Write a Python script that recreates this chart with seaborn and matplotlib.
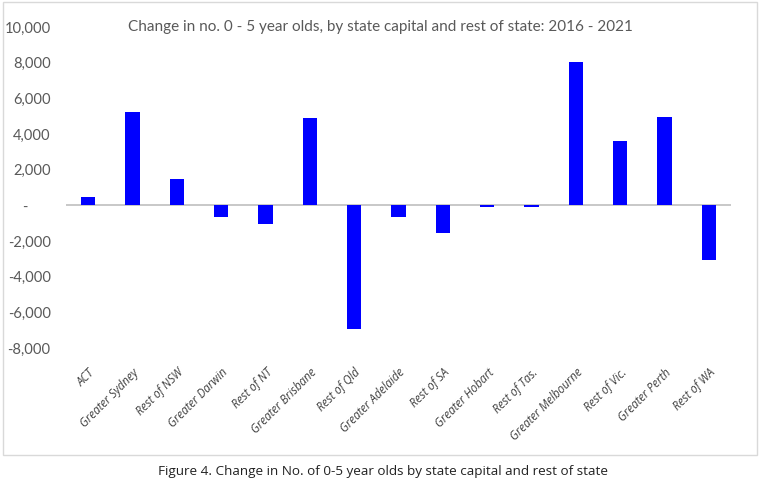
import numpy as np
import pandas as pd
import matplotlib
matplotlib.use("Agg")
import matplotlib.pyplot as plt
import matplotlib.patches as mpatches
import matplotlib.ticker as mticker
import seaborn as sns

# change in no. of 0-5 year olds, 2016 - 2021
regions = ["ACT", "Greater Sydney", "Rest of NSW", "Greater Darwin", "Rest of NT",
           "Greater Brisbane", "Rest of Qld", "Greater Adelaide", "Rest of SA",
           "Greater Hobart", "Rest of Tas.", "Greater Melbourne", "Rest of Vic.",
           "Greater Perth", "Rest of WA"]
change = [450, 5220, 1480, -630, -1030, 4890, -6920, -670, -1570,
          -110, -110, 8030, 3630, 4930, -3060]
yticks = [-8000, -6000, -4000, -2000, 0, 2000, 4000, 6000, 8000, 10000]

df = pd.DataFrame({"region": regions, "change": change})

sns.set_style("white")
plt.rcParams['font.family'] = ['Lato', 'DejaVu Sans']

fig = plt.figure(figsize=(7.68, 4.91), dpi=100)
W, H = 768, 491
ax = fig.add_axes([66/W, 1-348/H, (731-66)/W, (348-27)/H])

sns.barplot(data=df, x="region", y="change", color="#0000ff", saturation=1,
            width=0.33, ax=ax, linewidth=0)

ax.set_ylim(-8000, 10000)
ax.set_xlim(-0.5, len(regions)-0.5)
ax.set_yticks(yticks)
ax.yaxis.set_major_formatter(mticker.FuncFormatter(
    lambda v, p: '-      ' if v == 0 else f'{v:,.0f}'))
ax.axhline(0, color="#bfbfbf", lw=1.2, zorder=0)
for s in ax.spines.values():
    s.set_visible(False)

ax.tick_params(axis='y', length=0, pad=11, labelsize=10.6, labelcolor="#595959")
ax.tick_params(axis='x', length=0, pad=13)
ax.set_xlabel("")
ax.set_ylabel("")
for lab in ax.get_xticklabels():
    lab.set_rotation(45)
    lab.set_ha('right')
    lab.set_va('top')
    lab.set_rotation_mode('anchor')
    lab.set_family(['Open Sans', 'DejaVu Sans'])
    lab.set_style('italic')
    lab.set_fontsize(8.3)
    lab.set_color('#404040')

fig.text(380/W, 1-27/H, "Change in no. 0 - 5 year olds, by state capital and rest of state: 2016 - 2021",
         ha='center', va='center', fontsize=11, color="#595959")

fig.text(383/W, 1-472/H, "Figure 4. Change in No. of 0-5 year olds by state capital and rest of state",
         ha='center', va='center', fontsize=9.7, color="#222222", family=['Open Sans', 'DejaVu Sans'])

fig.patches.append(mpatches.Rectangle((3/W, 1-455/H), (757-3)/W, (455-2)/H,
                                      transform=fig.transFigure, fill=False,
                                      edgecolor="#d9d9d9", lw=1))

fig.savefig("out.png", dpi=100)
